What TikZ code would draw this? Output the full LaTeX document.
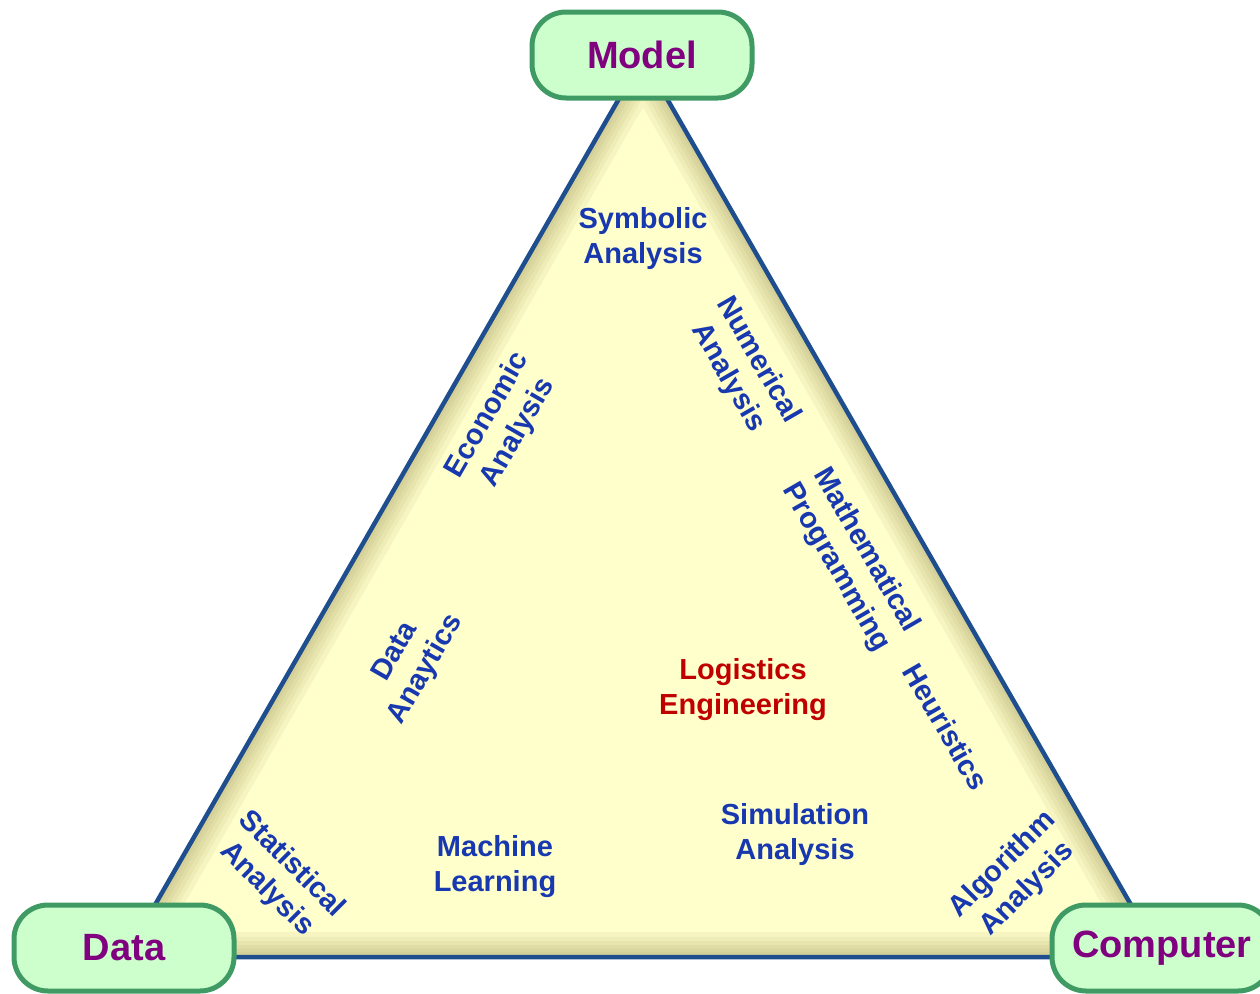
\documentclass[tikz,border=0pt]{standalone}
\usepackage{fontspec}
\setmainfont{Liberation Sans}
\definecolor{boxgreen}{HTML}{3F9B63}
\definecolor{boxfill}{HTML}{CCFFCC}
\definecolor{termpurple}{HTML}{800080}
\definecolor{topicblue}{HTML}{1838B0}
\definecolor{corered}{HTML}{C00000}
\definecolor{edgeblue}{HTML}{1F4E8F}
\definecolor{trifill}{HTML}{FFFFCC}
\definecolor{trishade}{HTML}{B0A668}
\begin{document}
\begin{tikzpicture}[x=1pt,y=-1pt,
  cornerbox/.style={draw=boxgreen, line width=5pt, fill=boxfill,
    rounded corners=34pt, minimum width=220pt, minimum height=86pt,
    text=termpurple, font=\fontsize{38}{44}\selectfont\bfseries, inner sep=0pt},
  topic/.style={text=topicblue, font=\fontsize{29}{35}\selectfont\bfseries,
    align=center, inner sep=0pt},
  core/.style={topic, text=corered},
  edge/.style={draw=edgeblue, line width=4.5pt, line join=round},
]
\path[use as bounding box, clip] (0,0) rectangle (1260,993);

% triangle corners
\coordinate (apex) at (643,57);
\coordinate (bl) at (125,957);
\coordinate (br) at (1161,957);

% filled triangle with a soft inner shade along its sides
\fill[trifill] (apex) -- (bl) -- (br) -- cycle;
\begin{scope}
  \clip (apex) -- (bl) -- (br) -- cycle;
  \foreach \w in {50,40,32,24,17,10}
    \draw[trishade, line width=\w pt, opacity=0.11, line join=miter]
      (apex) -- (bl) -- (br) -- cycle;
\end{scope}
\draw[edge] (apex) -- (bl) -- (br) -- cycle;

% corner boxes
\node[cornerbox] (model) at (642,55) {Model};
\node[cornerbox] (data) at (124,948) {Data};
\node[cornerbox] (computer) at (1162,948) {Computer};

% topics inside the triangle
\node[topic] (symbolic) at (643,238) {Symbolic\\Analysis};
\node[topic, rotate=-60] (numerical) at (743,369) {Numerical\\Analysis};
\node[topic, rotate=60] (economic) at (503,424) {Economic\\Analysis};
\node[topic, rotate=-60] (mathprog) at (851,559) {Mathematical\\Programming};
\node[topic, rotate=60] (analytics) at (411,661) {Data\\Anaytics};
\node[topic, rotate=-60] (heuristics) at (946,727) {Heuristics};
\node[core] (logistics) at (743,690) {Logistics\\Engineering};
\node[topic, rotate=-45] (statistical) at (279,877) {Statistical\\Analysis};
\node[topic] (machine) at (495,867) {Machine\\Learning};
\node[topic] (simulation) at (795,834) {Simulation\\Analysis};
\node[topic, rotate=45] (algorithm) at (1015,877) {Algorithm\\Analysis};
\end{tikzpicture}
\end{document}
